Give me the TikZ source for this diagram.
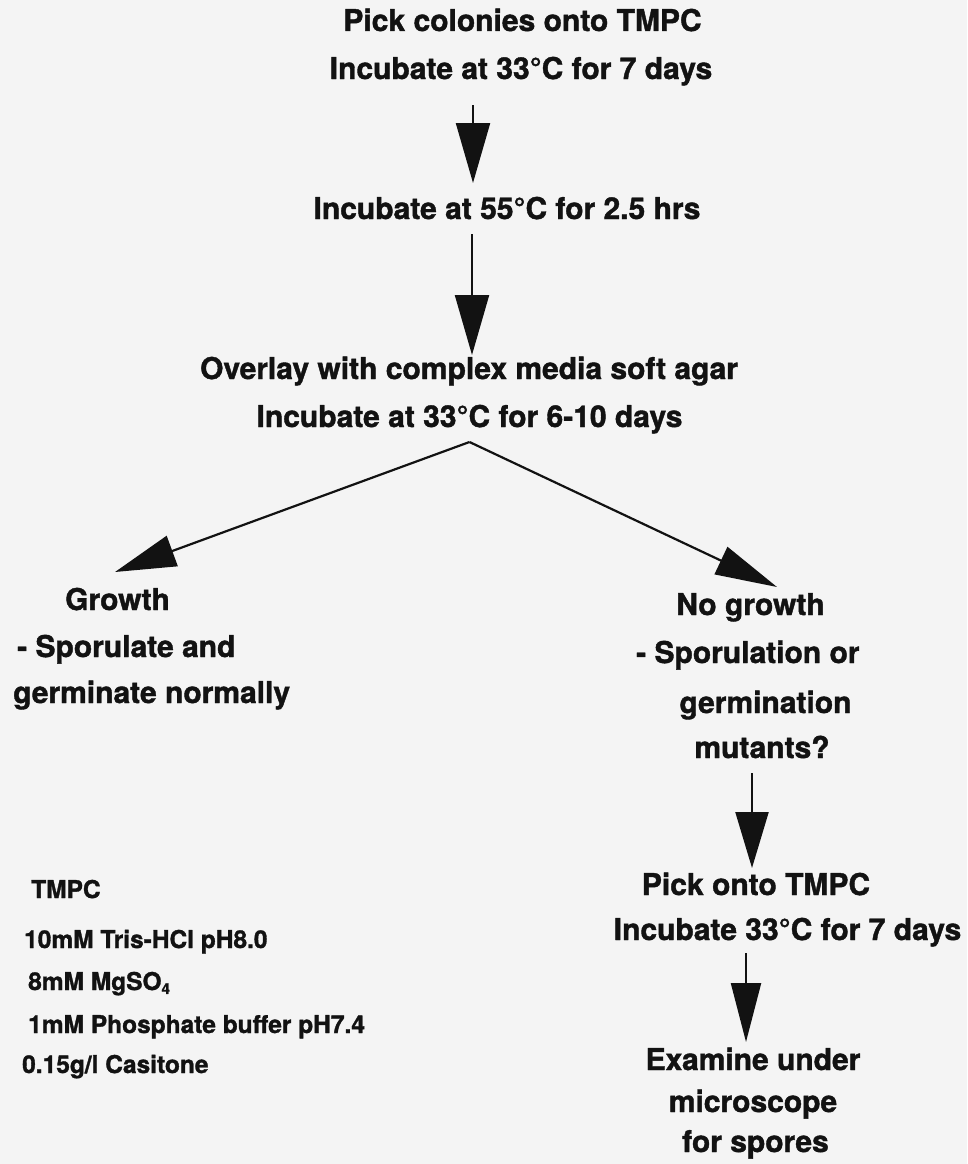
\documentclass[tikz,border=0pt]{standalone}
\usepackage{fontspec}
\setmainfont{TeX Gyre Heros}[BoldFeatures={FakeBold=1.3}]
\usetikzlibrary{arrows.meta}
\definecolor{bg}{RGB}{244,244,244}
\definecolor{ink}{RGB}{18,18,18}
\begin{document}
\begin{tikzpicture}[x=1pt,y=-1pt,
  lbl/.style={anchor=base,inner sep=0pt,font=\bfseries\fontsize{30}{36}\selectfont,text=ink},
  lblw/.style={lbl,anchor=base west},
  rec/.style={anchor=base west,inner sep=0pt,font=\bfseries\fontsize{24.5}{30}\selectfont,text=ink},
  arr/.style={draw=ink,line width=2.2pt,-{Triangle[length=60pt,width=34pt]}}]
\fill[bg] (0,0) rectangle (967,1164);
\useasboundingbox (0,0) rectangle (967,1164);

% main column
\node[lbl] (l1) at (522.5,31) {Pick colonies onto TMPC};
\node[lbl] (l2) at (521,79) {Incubate at 33°C for 7 days};
\node[lbl] (l3) at (507,219) {Incubate at 55°C for 2.5 hrs};
\node[lbl] (l4) at (469,379) {Overlay with complex media soft agar};
\node[lbl] (l5) at (469.5,427) {Incubate at 33°C for 6-10 days};

% left branch
\node[lbl] (g1) at (117.5,610) {Growth};
\node[lblw] (g2) at (17,657) {- Sporulate and};
\node[lblw] (g3) at (13,703) {germinate normally};

% right branch
\node[lbl] (n1) at (750.5,615) {No growth};
\node[lblw] (n2) at (636,663) {- Sporulation or};
\node[lbl] (n3) at (765.5,713) {germination};
\node[lbl] (n4) at (762,758) {mutants?};
\node[lbl] (p1) at (756,895) {Pick onto TMPC};
\node[lbl] (p2) at (787.5,940) {Incubate 33°C for 7 days};
\node[lbl] (e1) at (753,1070) {Examine under};
\node[lbl] (e2) at (753,1112) {microscope};
\node[lbl] (e3) at (755.5,1152) {for spores};

% recipe
\node[rec] (r0) at (31,898) {TMPC};
\node[rec] (r1) at (24,948) {10mM Tris-HCl pH8.0};
\node[rec] (r2) at (28,990) {8mM MgSO\raisebox{-0.3ex}{\fontsize{15}{15}\selectfont 4}};
\node[rec] (r3) at (28,1033) {1mM Phosphate buffer pH7.4};
\node[rec] (r4) at (22,1073) {0.15g/l Casitone};

% arrow tips
\coordinate (t1) at (473,183);
\coordinate (t2) at (472,355);
\coordinate (tL) at (115,572);
\coordinate (tR) at (777,587);
\coordinate (t3) at (752,868);
\coordinate (t4) at (746,1042);

\draw[arr,shorten <=26pt] (l2.base -| t1) -- (t1);
\draw[arr,shorten <=15pt] (l3.base -| t2) -- (t2);
\draw[arr,-{Triangle[length=61pt,width=32pt]}] ([yshift=-15pt]l5.base) -- (tL);
\draw[arr,-{Triangle[length=62pt,width=30pt]}] ([yshift=-15pt]l5.base) -- (tR);
\draw[arr,shorten <=15pt,-{Triangle[length=56pt,width=33pt]}] (n4.base -| t3) -- (t3);
\draw[arr,shorten <=13pt,-{Triangle[length=59pt,width=30pt]}] (p2.base -| t4) -- (t4);
\end{tikzpicture}
\end{document}
